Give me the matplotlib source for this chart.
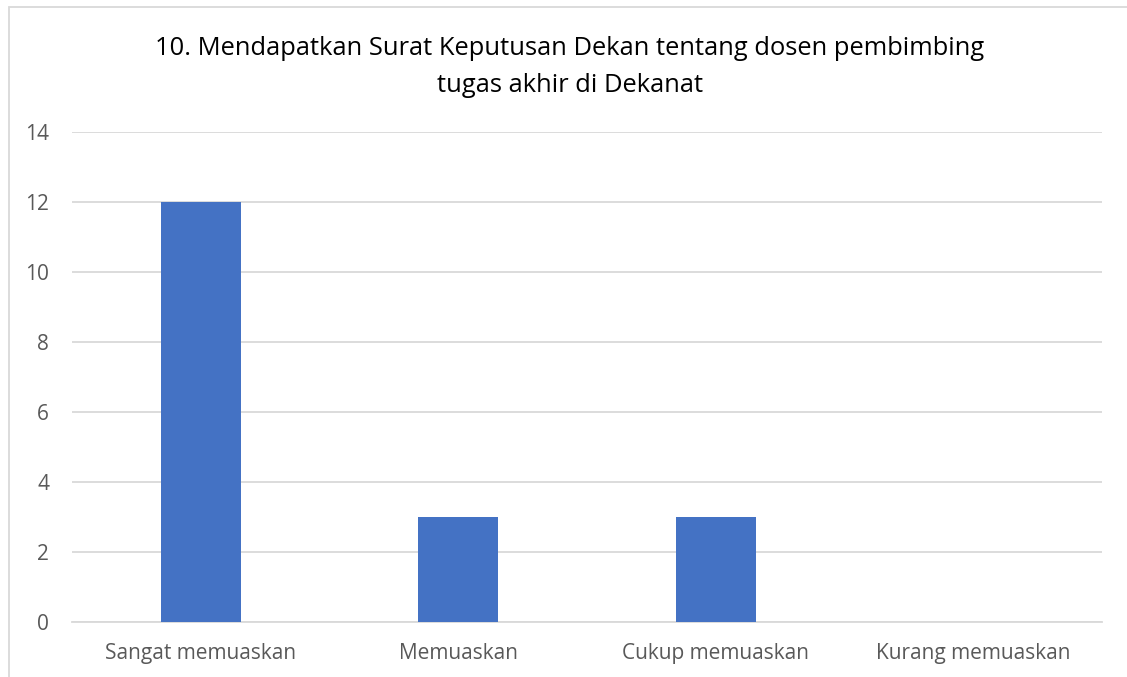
import matplotlib
matplotlib.use("Agg")
import matplotlib.pyplot as plt
from matplotlib.patches import Rectangle

categories = ["Sangat memuaskan", "Memuaskan", "Cukup memuaskan", "Kurang memuaskan"]
values = [12, 3, 3, 0]
yticks = [0, 2, 4, 6, 8, 10, 12, 14]
title = "10. Mendapatkan Surat Keputusan Dekan tentang dosen pembimbing\ntugas akhir di Dekanat"

plt.rcParams['font.family'] = ['Open Sans', 'DejaVu Sans']

W, H = 1127, 677
fig = plt.figure(figsize=(W/100, H/100), dpi=100)
ax = fig.add_axes([72/W, 1-622/H, (1102-72)/W, (622-132)/H])

x = range(len(categories))
ax.bar(x, values, width=0.31, color="#4472C4", zorder=3)
ax.set_xlim(-0.5, len(categories)-0.5)
ax.set_ylim(0, 14)
ax.set_yticks(yticks)
ax.set_xticks(list(x))
ax.set_xticklabels(categories)
ax.grid(axis='y', color="#D9D9D9", linewidth=1.3, zorder=0)
for s in ["top", "right", "left"]:
    ax.spines[s].set_visible(False)
ax.spines["bottom"].set_color("#D9D9D9")
ax.spines["bottom"].set_linewidth(1.3)
ax.tick_params(axis='both', length=0, colors="#595959", labelsize=15)
ax.tick_params(axis='y', pad=16.5)
ax.tick_params(axis='x', pad=15)

fig.text(570/W, 1-67/H, title, ha='center', va='center', fontsize=18.4,
         color="#000000", linespacing=1.6)

fig.patches.append(Rectangle((9/W, -0.1), 1.2, 1.1 - 7/H, transform=fig.transFigure,
                             fill=False, edgecolor="#D9D9D9", linewidth=1.3))

fig.savefig("out.png", dpi=100)
